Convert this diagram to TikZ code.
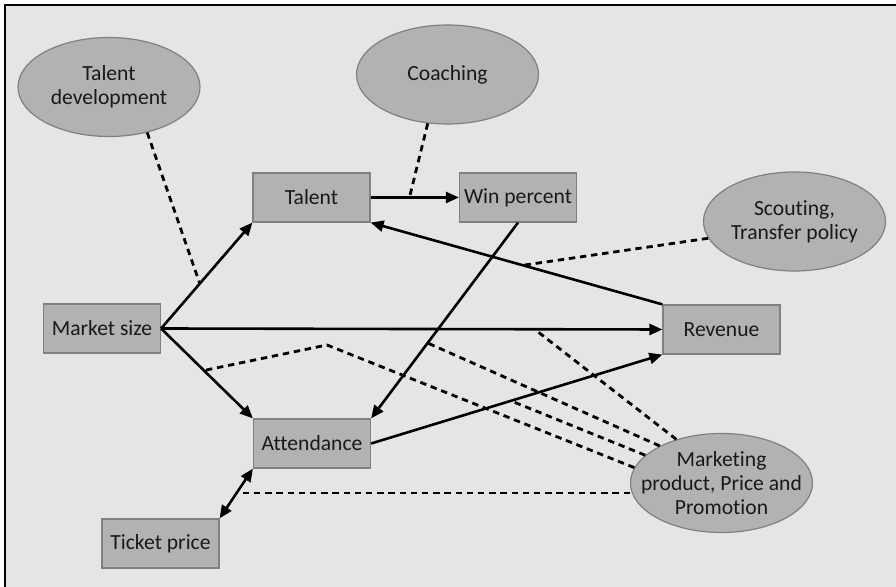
\documentclass[tikz,border=0pt]{standalone}
\usepackage{fontspec}
\setmainfont{Carlito}[Ligatures=NoCommon]
\usetikzlibrary{shapes.geometric,arrows.meta}

\begin{document}
\begin{tikzpicture}[x=0.5pt,y=-0.5pt,
  every node/.style={inner sep=0pt,font=\fontsize{10.8}{12}\selectfont,text=black!90},
  box/.style={draw=black!50,line width=0.6pt,fill=black!30,minimum width=58.5pt,minimum height=24.5pt},
  oval/.style={ellipse,draw=black!50,line width=0.6pt,fill=black!30,inner sep=-12pt,minimum width=91pt,minimum height=49.5pt,align=center},
  arr/.style={line width=1.3pt,-{Triangle[length=6.5pt,width=5.5pt]}},
  dep/.style={line width=1.4pt,dash pattern=on 3.2pt off 2.4pt}]
\useasboundingbox (0,0) rectangle (896,587);
\fill [black!10] (5,5) rectangle (896,587);
\draw [line width=0.8pt] (5,587) -- (5,5) -- (896,5);
\node [box] (talent) at (311.5,197.5) {Talent};
\node [box] (win) at (518,197.5) {Win percent};
\node [box] (market) at (102,328.5) {Market size};
\node [box] (attend) at (312,443.5) {Attendance};
\node [box] (ticket) at (160.5,543.5) {Ticket price};
\node [box] (revenue) at (721.5,329.5) {Revenue};
\node [oval] (tdev) at (109,87) {Talent\\development};
\node [oval] (coach) at (447.5,74.5) {Coaching};
\node [oval] (scout) at (794.5,221.5) {Scouting,\\Transfer policy};
\node [oval] (mkt) at (721.5,483) {Marketing\\product, Price and\\Promotion};
\coordinate (bend) at (327,345);
\draw [arr] (market.east) -- coordinate[pos=0.424] (mt) (talent.south west);
\draw [arr] (market.east) -- coordinate[pos=0.745] (mr) (revenue.west);
\draw [arr] (market.east) -- coordinate[pos=0.467] (ma) (attend.north west);
\draw [arr] (talent.east) -- coordinate[pos=0.44] (tw) (win.west);
\draw [arr] (revenue.north west) -- coordinate[pos=0.478] (rt) (talent.south east);
\draw [arr] (win.south) -- coordinate[pos=0.615] (wa) (attend.north east);
\draw [arr] (attend.east) -- coordinate[pos=0.48] (ar) (revenue.south west);
\draw [line width=1.3pt,{Triangle[length=6.5pt,width=5.5pt]}-{Triangle[length=6.5pt,width=5.5pt]}] (ticket.north east) -- coordinate[pos=0.51] (ta) (attend.south west);
\draw [dep] (tdev.-50) -- (mt);
\draw [dep] (coach.248) -- (tw);
\draw [dep] (scout.191) -- (rt);
\draw [dep] (mkt.136) -- (mr);
\draw [dep] (mkt.149) -- (wa);
\draw [dep] (mkt.160) -- (ar);
\draw [dep] (mkt.170) -- (bend) -- (ma);
\draw [dep] (mkt.west |- ta) -- (ta);
\end{tikzpicture}
\end{document}
